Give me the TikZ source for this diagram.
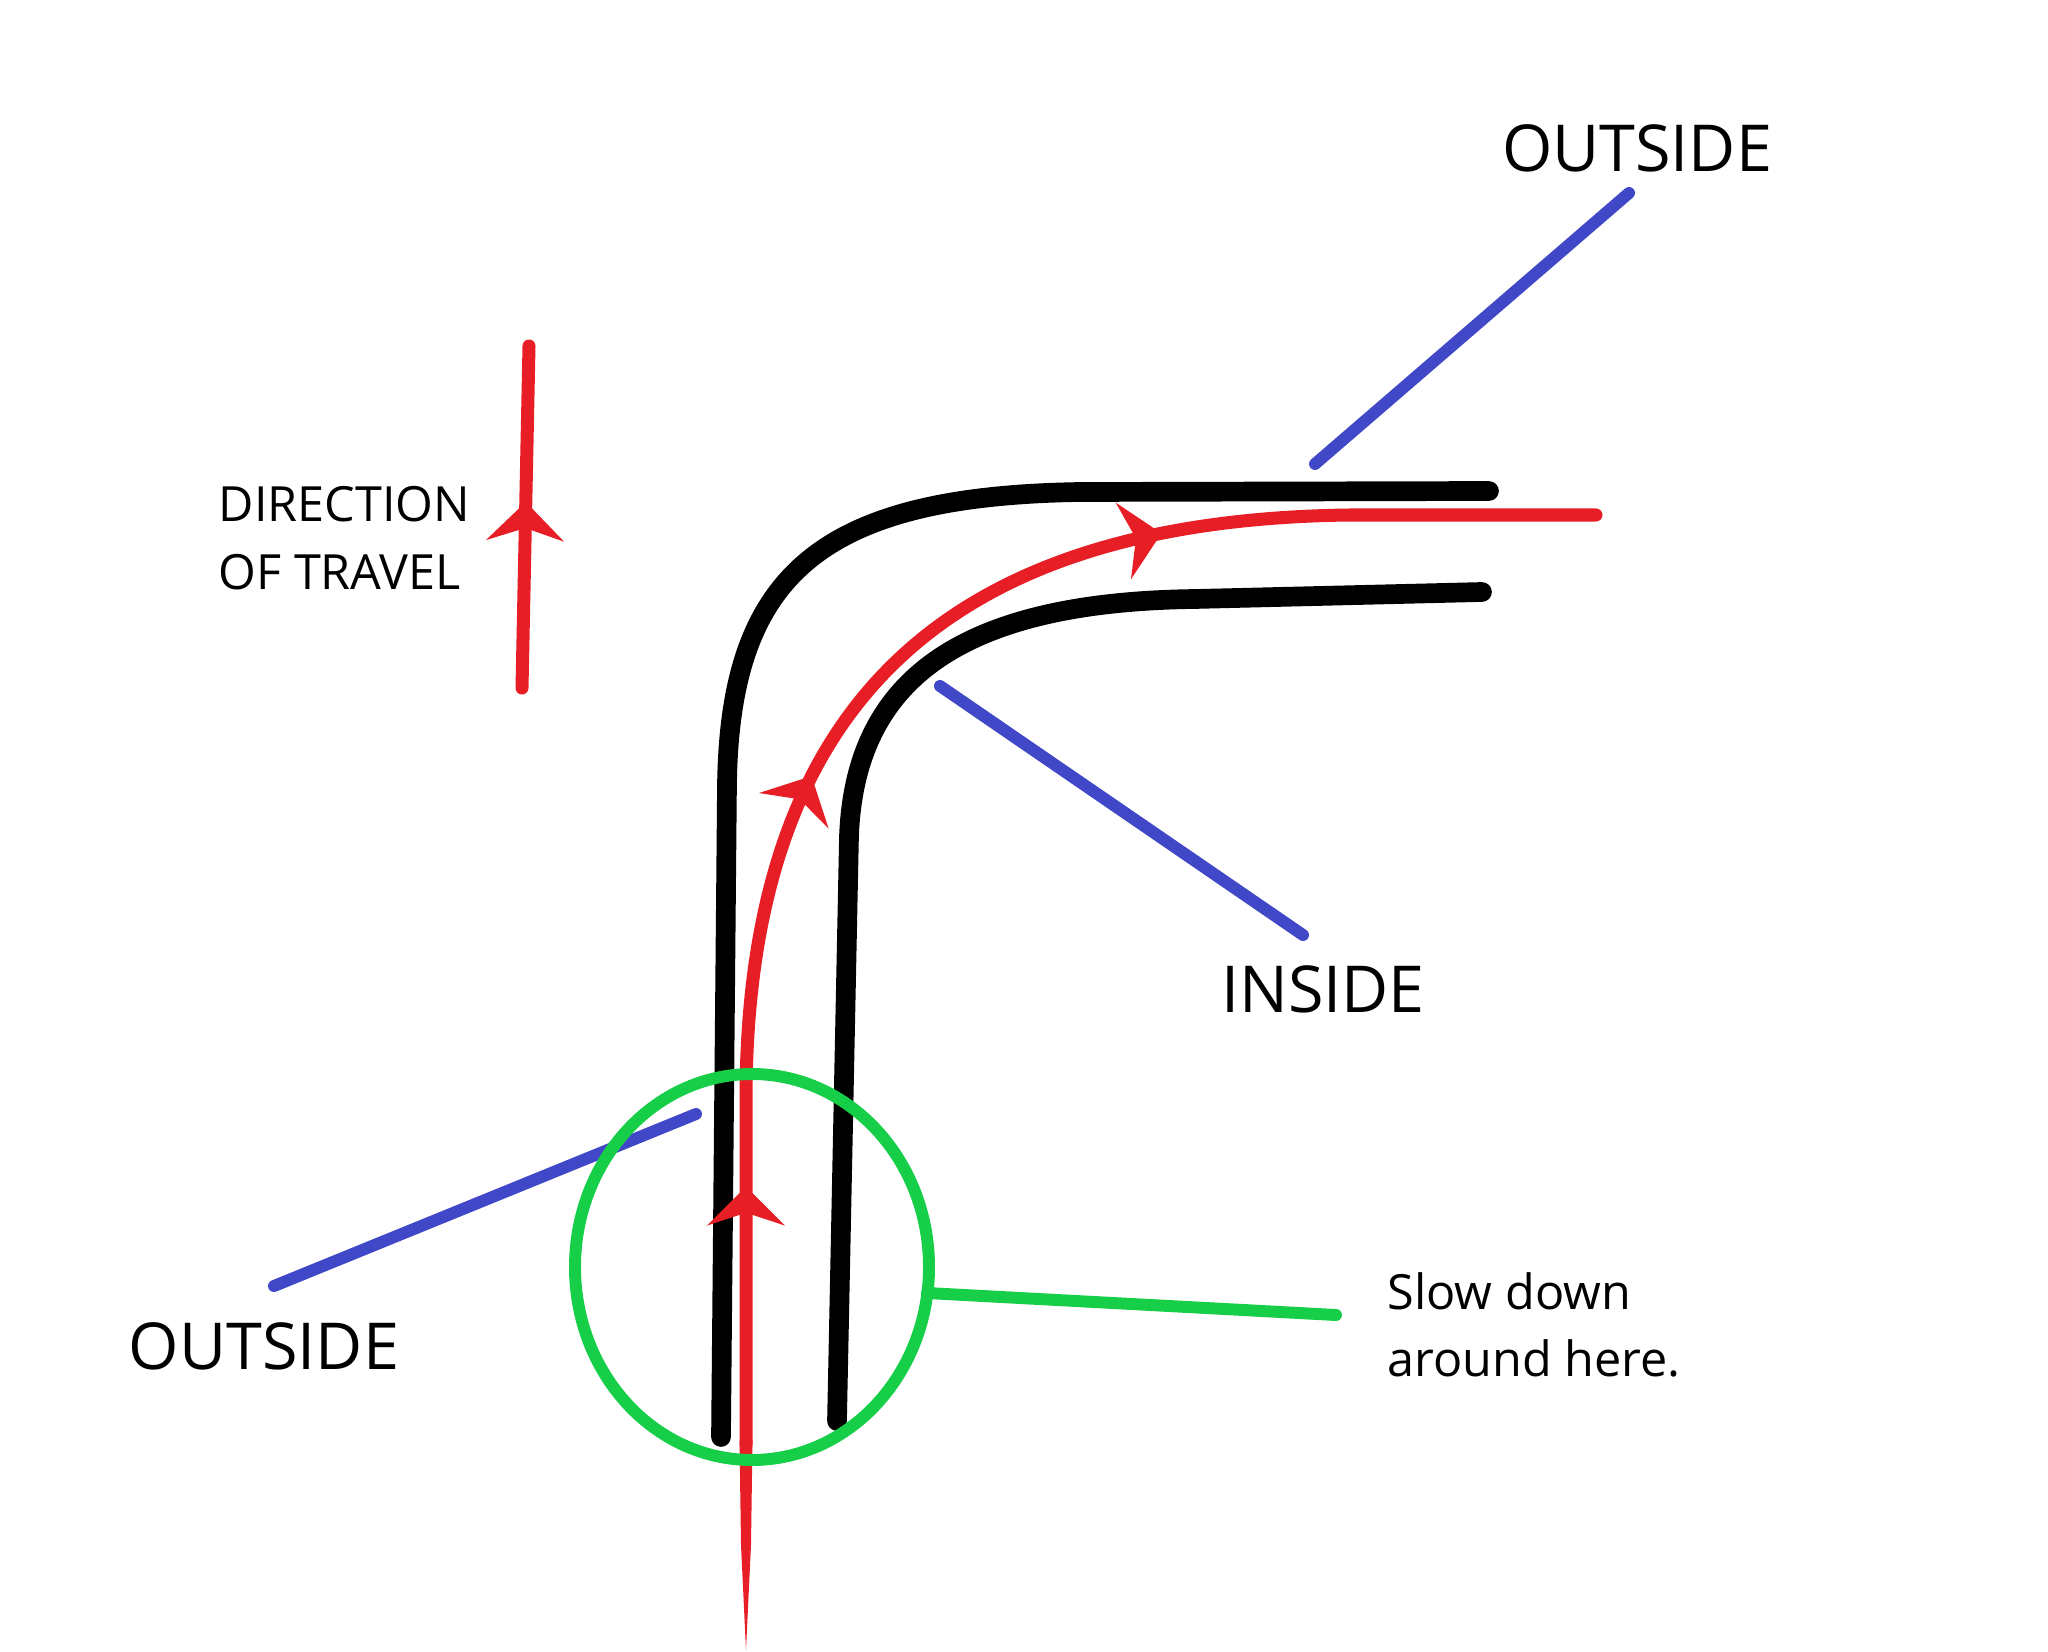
\documentclass[tikz,border=0pt]{standalone}
\usepackage{fontspec}
\setmainfont{Open Sans}
\usetikzlibrary{arrows.meta,decorations.markings,positioning}
\definecolor{routered}{RGB}{232,30,38}
\definecolor{leaderblue}{RGB}{64,72,200}
\definecolor{zonegreen}{RGB}{22,206,72}
\tikzset{
  Travel/.tip={Stealth[length=11pt, width=22pt, inset=3.6pt]},
  road/.style={line width=5.6pt, black, line cap=round},
  route/.style={line width=3.7pt, routered, line cap=round},
  leader/.style={line width=3.4pt, leaderblue, line cap=round},
  zone/.style={line width=3.4pt, zonegreen},
  tag/.style={font=\fontsize{18.4}{22}\selectfont, inner sep=0pt, anchor=base},
  note/.style={font=\fontsize{13.8}{19.2}\selectfont, align=left, inner sep=0pt, anchor=west}
}

\begin{document}
\begin{tikzpicture}[x=0.01cm, y=-0.01cm]
  \useasboundingbox (0,0) rectangle (2048,1652);
  % road edges
  \draw[road] (721,1437) -- (727,784) .. controls (730,575) and (820,496) .. (1080,492) -- (1489,491);
  \draw[road] (837,1421) -- (849,836) .. controls (855,680) and (960,602) .. (1195,599) -- (1482,592);
  % driving line
  \fill[routered] (739.5,1440) -- (752.5,1440) -- (751,1545) -- (746,1650) -- (741,1545) -- cycle;
  \draw[route, postaction={decorate}, decoration={markings,
      mark=at position 0.166 with {\arrow{Travel}},
      mark=at position 0.436 with {\arrow{Travel}},
      mark=at position 0.72 with {\arrow{Travel}}}]
    (746,1445) -- (746,1100) .. controls (746,720) and (930,520) .. (1350,515) -- (1596,515);
  % direction of travel
  \coordinate (dirS) at (522,688);
  \coordinate (dirE) at (529,346);
  \draw[route, postaction={decorate}, decoration={markings,
      mark=at position 0.544 with {\arrow{Travel}}}] (dirS) -- (dirE);
  \node[note] (dir) at (218,538) {DIRECTION\\OF TRAVEL};
  % labels
  \node[tag] (outTop) at (1637,172) {OUTSIDE};
  \node[tag] (inside) at (1323,1012) {INSIDE};
  \node[tag] (outBot) at (264,1369) {OUTSIDE};
  \node[note] (slow) at (1387,1325) {Slow down\\around here.};
  % leaders
  \coordinate (a1) at (1315,464);  \coordinate (a2) at (1629,193);
  \coordinate (b1) at (940,686);   \coordinate (b2) at (1303,935);
  \coordinate (c1) at (696,1114);  \coordinate (c2) at (274,1286);
  \draw[leader] (a1) -- (a2);
  \draw[leader] (b1) -- (b2);
  \draw[leader] (c1) -- (c2);
  % slow zone
  \draw[zone] (752,1267) ellipse [x radius=177, y radius=193];
  \coordinate (zoneE) at (927,1293);
  \coordinate (zoneT) at (1336,1315);
  \draw[zone, line cap=round] (zoneE) -- (zoneT);
\end{tikzpicture}
\end{document}
